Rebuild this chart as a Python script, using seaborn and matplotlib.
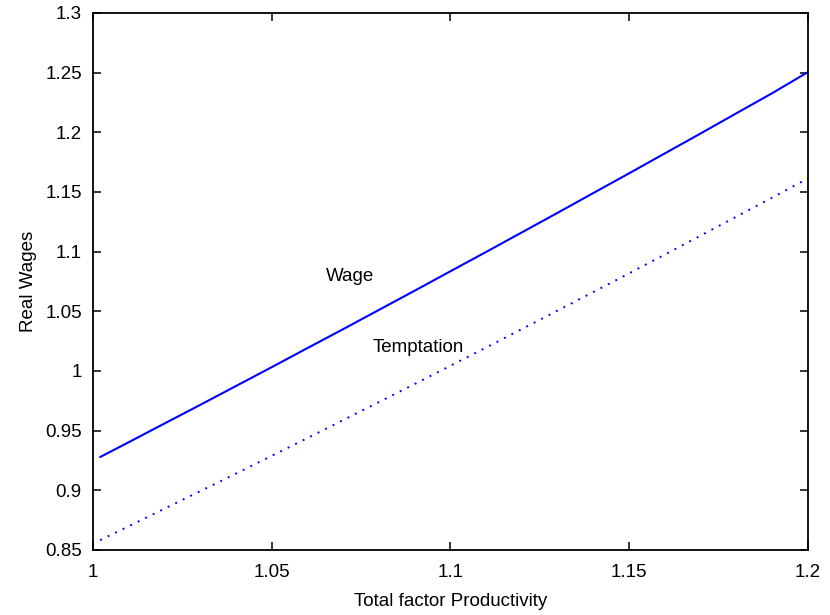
import matplotlib
matplotlib.use("Agg")
import matplotlib.pyplot as plt
import seaborn as sns
import pandas as pd

# Data
tfp = [1.002, 1.01, 1.02, 1.03, 1.04, 1.05, 1.06, 1.07, 1.08, 1.09, 1.10,
       1.11, 1.12, 1.13, 1.14, 1.15, 1.16, 1.17, 1.18, 1.19, 1.20]
wage = [0.9279, 0.9403, 0.9560, 0.9716, 0.9874, 1.0032, 1.0192, 1.0351, 1.0512,
        1.0673, 1.0836, 1.0998, 1.1162, 1.1326, 1.1492, 1.1657, 1.1824, 1.1991,
        1.2160, 1.2328, 1.2505]
temptation = [0.8583, 0.8699, 0.8846, 0.8993, 0.9140, 0.9289, 0.9438, 0.9589,
              0.9740, 0.9891, 1.0044, 1.0197, 1.0352, 1.0507, 1.0662, 1.0819,
              1.0976, 1.1135, 1.1294, 1.1453, 1.1614]
xticks = [1, 1.05, 1.1, 1.15, 1.2]
xticklabels = ["1", "1.05", "1.1", "1.15", "1.2"]
yticks = [0.85, 0.9, 0.95, 1, 1.05, 1.1, 1.15, 1.2, 1.25, 1.3]
yticklabels = ["0.85", "0.9", "0.95", "1", "1.05", "1.1", "1.15", "1.2", "1.25", "1.3"]

df = pd.DataFrame({"tfp": tfp, "wage": wage, "temptation": temptation})

sns.set_theme(style="ticks")
plt.rcParams['font.family'] = ['Liberation Sans', 'DejaVu Sans']
plt.rcParams['text.color'] = 'black'
plt.rcParams['axes.labelcolor'] = 'black'

fig = plt.figure(figsize=(8.3, 6.15), dpi=100)
ax = fig.add_axes([0.112, 0.1057, 0.8615, 0.8732])

sns.lineplot(data=df, x="tfp", y="wage", ax=ax, color="#0000ff", lw=1.5)
sns.lineplot(data=df, x="tfp", y="temptation", ax=ax, color="#0000ff", lw=1.4,
             linestyle=(0, (1, 3.3)))

ax.set_xlim(1, 1.2)
ax.set_ylim(0.85, 1.3)
ax.set_xticks(xticks)
ax.set_xticklabels(xticklabels)
ax.set_yticks(yticks)
ax.set_yticklabels(yticklabels)

for s in ax.spines.values():
    s.set_visible(True)
    s.set_linewidth(1.3)
    s.set_color("black")

ax.tick_params(direction="in", length=6, width=1.1, top=True, right=True,
               labelsize=13.5, colors="black", pad=8)
ax.tick_params(axis="x", pad=10)

ax.set_xlabel("Total factor Productivity", fontsize=13.5, labelpad=9, color="black")
ax.set_ylabel("Real Wages", fontsize=13.5, labelpad=6, color="black")

ax.text(1.0652, 1.079, "Wage", fontsize=13.5, va="center", ha="left", color="black")
ax.text(1.0783, 1.0195, "Temptation", fontsize=13.5, va="center", ha="left", color="black")

fig.savefig("out.png", dpi=100)
